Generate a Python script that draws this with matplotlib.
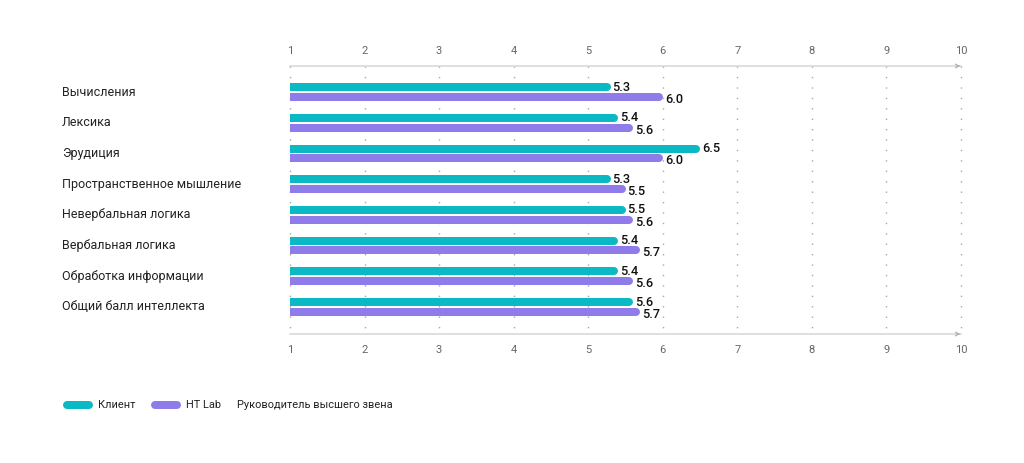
import numpy as np
import matplotlib.pyplot as plt

plt.rcParams['font.family'] = ['Roboto', 'DejaVu Sans']

categories = ['Вычисления', 'Лексика', 'Эрудиция', 'Пространственное мышление',
              'Невербальная логика', 'Вербальная логика', 'Обработка информации',
              'Общий балл интеллекта']
client = [5.3, 5.4, 6.5, 5.3, 5.5, 5.4, 5.4, 5.6]
htlab = [6.0, 5.6, 6.0, 5.5, 5.6, 5.7, 5.6, 5.7]
xticks = [1, 2, 3, 4, 5, 6, 7, 8, 9, 10]
series_names = ['Клиент', 'HT Lab', 'Руководитель высшего звена']

teal = '#0bb9c4'
purple = '#8f7cea'

W, H = 1024, 463
fig = plt.figure(figsize=(W / 100, H / 100), dpi=100)
# axes spans pixel x 290..961, y 66..334
ax = fig.add_axes([290 / W, 1 - 334 / H, (961 - 290) / W, (334 - 66) / H])
ax.set_xlim(1, 10)
ax.set_ylim(7.88, -0.85)
ax.axis('off')

px = 9.0 / (961 - 290)          # data units per pixel along x
bar_lw = 8 * 0.72               # 8 px in points
cap = 4 * px

# dotted grid
for t in xticks:
    ax.plot([t, t], [-0.85, 7.88], color='#a8a8a8', lw=1.0,
            linestyle=(0, (1, 6.5)), clip_on=False, zorder=0)

# top / bottom axis lines with arrows
for yy in (-0.85, 7.88):
    ax.plot([1, 10], [yy, yy], color='#d9d9d9', lw=1.2, clip_on=False, zorder=1)
    ax.annotate('', xy=(10.03, yy), xytext=(9.9, yy),
                arrowprops=dict(arrowstyle='->', color='#b0b0b0', lw=0.8,
                                mutation_scale=7), annotation_clip=False)

# tick labels top and bottom
for t in xticks:
    fig.text((290 + (t - 1) / px) / W, 1 - 51 / H, str(t), ha='center', va='center',
             fontsize=8, color='#666666')
    fig.text((290 + (t - 1) / px) / W, 1 - 350 / H, str(t), ha='center', va='center',
             fontsize=8, color='#666666')

y = np.arange(len(categories))
off = 0.16
for i in range(len(categories)):
    for val, dy, ldy, col in ((client[i], -off, 0.0, teal), (htlab[i], off, 0.08, purple)):
        ln, = ax.plot([0.9, val - cap], [y[i] + dy, y[i] + dy], color=col,
                      lw=bar_lw, solid_capstyle='round', zorder=3)
        ln.set_clip_on(True)
        ax.text(val + 2 * px, y[i] + dy + ldy, f'{val:.1f}', ha='left', va='center',
                fontsize=9.2, fontweight='medium', color='#111111', zorder=4,
                clip_on=False)
    fig.text(62 / W, 1 - (92 + 30.7 * i) / H, categories[i], ha='left', va='center',
             fontsize=9.0, color='#222222')

# legend
lx = fig.add_axes([0, 0, 1, 1])
lx.set_xlim(0, W)
lx.set_ylim(H, 0)
lx.axis('off')
lx.plot([67, 89], [405, 405], color=teal, lw=bar_lw, solid_capstyle='round')
lx.text(98, 405, series_names[0], va='center', fontsize=7.9, color='#222222')
lx.plot([155, 177], [405, 405], color=purple, lw=bar_lw, solid_capstyle='round')
lx.text(186, 405, series_names[1], va='center', fontsize=7.9, color='#222222')
lx.text(237, 405, series_names[2], va='center', fontsize=7.9, color='#222222')

fig.savefig('out.png', dpi=100)
